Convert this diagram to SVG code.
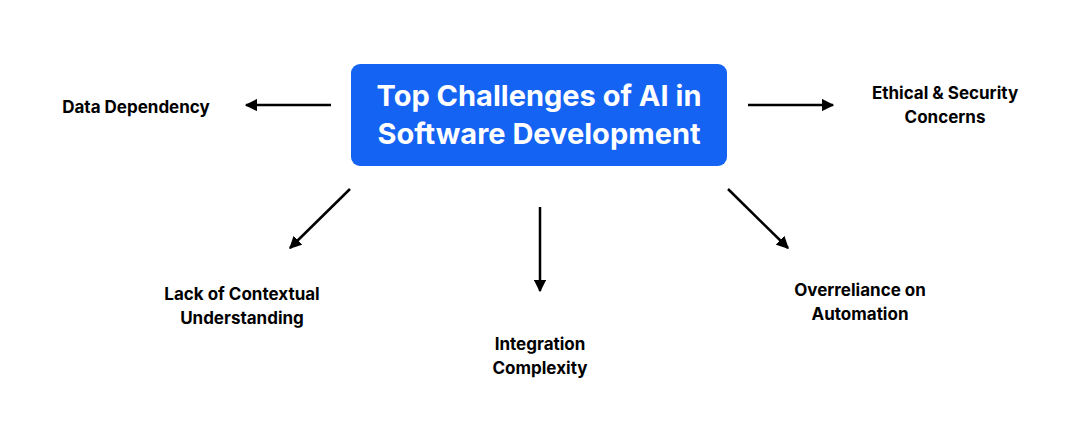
<svg xmlns="http://www.w3.org/2000/svg" width="1080" height="440" viewBox="0 0 1080 440">
<style>
.lbl{font-family:Inter,"Liberation Sans",sans-serif;font-weight:700;font-size:17px;fill:#000;text-anchor:middle}
.title{font-family:Inter,"Liberation Sans",sans-serif;font-weight:700;font-size:29px;fill:#fff;text-anchor:middle}
.c{stroke:#000;stroke-width:2.5;fill:none;marker-end:url(#ah)}
</style>
<defs><marker id="ah" viewBox="0 0 10 10" refX="9" refY="5" markerWidth="5" markerHeight="5" orient="auto" markerUnits="strokeWidth"><path d="M0,0 L10,5 L0,10 z" fill="#000"/></marker></defs>
<rect width="1080" height="440" fill="#fff"/>
<g id="center"><rect x="351" y="64" width="376" height="102" rx="9" fill="#1463f3"/>
<text class="title" x="539" y="106">Top Challenges of AI in</text>
<text class="title" x="539" y="144">Software Development</text></g>
<g id="connectors">
<line class="c" x1="331" y1="105" x2="246" y2="105"/>
<line class="c" x1="748" y1="105" x2="833" y2="105"/>
<line class="c" x1="350" y1="189" x2="290" y2="248"/>
<line class="c" x1="540" y1="207" x2="540" y2="291"/>
<line class="c" x1="728" y1="189" x2="788" y2="248"/>
</g>
<g id="n1"><text class="lbl" x="136" y="113">Data Dependency</text></g>
<g id="n2"><text class="lbl" x="945" y="99">Ethical &amp; Security</text><text class="lbl" x="945" y="123">Concerns</text></g>
<g id="n3"><text class="lbl" x="242" y="300">Lack of Contextual</text><text class="lbl" x="242" y="324">Understanding</text></g>
<g id="n4"><text class="lbl" x="540" y="350">Integration</text><text class="lbl" x="540" y="374">Complexity</text></g>
<g id="n5"><text class="lbl" x="860" y="296">Overreliance on</text><text class="lbl" x="860" y="320">Automation</text></g>
</svg>
